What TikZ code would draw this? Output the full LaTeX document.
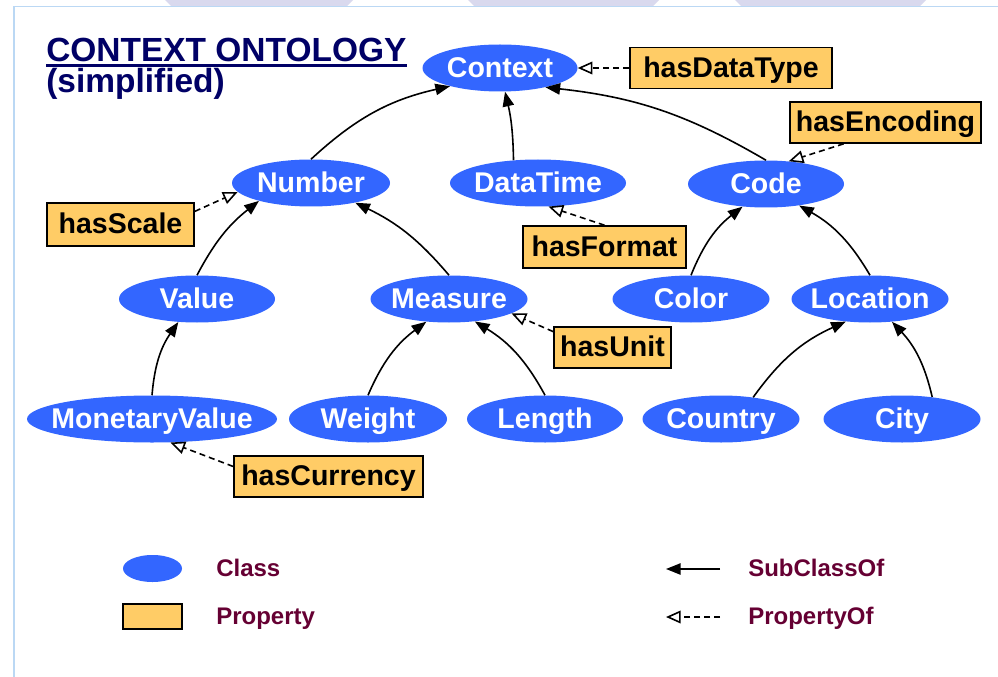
\documentclass[tikz,border=0pt]{standalone}
\usepackage{fontspec}
\setmainfont{Liberation Sans}
\usetikzlibrary{arrows.meta,shapes.geometric,calc}

\definecolor{classblue}{HTML}{3366FF}
\definecolor{propfill}{HTML}{FFCC66}
\definecolor{titlenavy}{HTML}{000066}
\definecolor{legendred}{HTML}{660033}
\definecolor{framecol}{HTML}{BBD8F4}
\definecolor{tabcol}{HTML}{D9D9EE}

\newcommand{\clsname}[1]{\makebox[0pt]{#1}}

\tikzset{
  cls/.style={ellipse, fill=classblue, draw=none, inner sep=0pt,
    minimum width=#1*0.75pt, minimum height=47*0.75pt,
    text=white, font=\fontsize{21.4pt}{24pt}\selectfont\bfseries,
    text height=15.3pt, text depth=1.5pt},
  cls/.default=157,
  prop/.style={rectangle, fill=propfill, draw=black, line width=1.2pt,
    inner sep=0pt, minimum width=#1*0.75pt, minimum height=41*0.75pt,
    font=\fontsize{21.4pt}{24pt}\selectfont\bfseries,
    text height=15.3pt, text depth=1.2pt},
  sub/.style={line width=1.2pt, -{Triangle[length=11pt,width=8.5pt]}},
  propof/.style={line width=1.2pt, dash pattern=on 4.5pt off 3pt,
    -{Triangle[open,length=11pt,width=9.5pt,fill=white]}},
  legendtext/.style={anchor=base west, inner sep=0pt, text=legendred,
    font=\fontsize{18pt}{20pt}\selectfont\bfseries},
}

\begin{document}
\begin{tikzpicture}[x=0.75pt,y=-0.75pt]
  \useasboundingbox (0,0) rectangle (998,677);
  \fill[white] (0,0) rectangle (998,677);

  % tabs along the top edge and the slide frame
  \fill[tabcol] (165,0) -- (353,0) -- (347,6) -- (171,6) -- cycle;
  \fill[tabcol] (468,0) -- (659,0) -- (653,6) -- (474,6) -- cycle;
  \fill[tabcol] (735,0) -- (926,0) -- (920,6) -- (741,6) -- cycle;
  \draw[framecol, line width=1.1pt] (14,677) -- (14,6.5) -- (998,6.5);

  % title
  \node[anchor=base west, inner sep=0pt, text=titlenavy,
        font=\fontsize{25.1pt}{28pt}\selectfont\bfseries] (title) at (46,62) {CONTEXT ONTOLOGY};
  \draw[titlenavy, line width=1.9pt] ($(title.base west)+(0,3.3)$) -- ($(title.base east)+(0,3.3)$);
  \node[anchor=base west, inner sep=0pt, text=titlenavy,
        font=\fontsize{25.1pt}{28pt}\selectfont\bfseries] (subtitle) at (46,93) {(simplified)};

  % classes
  \node[cls=155] (context)  at (500,68)  {\clsname{Context}};
  \node[cls=158] (number)   at (311,183) {\clsname{Number}};
  \node[cls=176] (datatime) at (538,183) {\clsname{DataTime}};
  \node[cls=156] (code)     at (766,184) {\clsname{Code}};
  \node[cls=156] (value)    at (197,299) {\clsname{Value}};
  \node[cls=157] (measure)  at (449,299) {\clsname{Measure}};
  \node[cls=157] (color)    at (691,299) {\clsname{Color}};
  \node[cls=157] (location) at (870,299) {\clsname{Location}};
  \node[cls=250] (monetary) at (152,419) {\clsname{MonetaryValue}};
  \node[cls=158] (weight)   at (368,419) {\clsname{Weight}};
  \node[cls=156] (length)   at (545,419) {\clsname{Length}};
  \node[cls=157] (country)  at (721,419) {\clsname{Country}};
  \node[cls=157] (city)     at (902,419) {\clsname{City}};

  % properties
  \node[prop=202] (hasdatatype) at (731,68)    {hasDataType};
  \node[prop=191] (hasencoding) at (885.5,122.5) {hasEncoding};
  \node[prop=147, minimum height=43*0.75pt] (hasscale) at (120.5,224.5) {hasScale};
  \node[prop=163, minimum height=42*0.75pt] (hasformat) at (604.5,247) {hasFormat};
  \node[prop=117] (hasunit)     at (612.5,347.5) {hasUnit};
  \node[prop=189] (hascurrency) at (328.5,476.5) {hasCurrency};

  % subclass links
  \draw[sub] (number.north)  to[bend left=15]  (context.200);
  \draw[sub] (datatime.137)  to[bend right=6]  (context.282);
  \draw[sub] (code.north)    to[bend right=12] (context.337);
  \draw[sub] (value.north)   to[bend left=12]  (number.199);
  \draw[sub] (measure.north) to[bend right=12] (number.336);
  \draw[sub] (color.north)   to[bend left=15]  (code.224);
  \draw[sub] (location.north) to[bend right=15] (code.327);
  \draw[sub] (monetary.north) to[bend left=15] (value.231);
  \draw[sub] (weight.north)  to[bend left=15]  (measure.225);
  \draw[sub] (length.north)  to[bend right=15] (measure.319);
  \draw[sub] (country.34)    to[bend left=15]  (location.223);
  \draw[sub] (city.36)       to[bend right=15] (location.314);

  % property links
  \draw[propof] (hasdatatype.west) -- (context.east);
  \draw[propof] (hasencoding.207)  -- (code.45);
  \draw[propof] (hasscale.10)      -- (number.187);
  \draw[propof] (hasformat.north)  -- (datatime.294);
  \draw[propof] (hasunit.165)      -- (measure.347);
  \draw[propof] (hascurrency.174)  -- (monetary.308);

  % legend
  \node[ellipse, fill=classblue, inner sep=0pt, minimum width=59*0.75pt,
        minimum height=27*0.75pt] (legclass) at (152.5,568.5) {};
  \node[rectangle, fill=propfill, draw=black, line width=1.1pt, inner sep=0pt,
        minimum width=59*0.75pt, minimum height=25*0.75pt] (legprop) at (152.5,616.5) {};
  \node[legendtext] (legclasstext) at (216,576) {Class};
  \node[legendtext] (legproptext)  at (216,624) {Property};
  \coordinate (subA) at (720,569);
  \coordinate (subB) at (666,569);
  \coordinate (propA) at (720,617);
  \coordinate (propB) at (666,617);
  \draw[sub] (subA) -- (subB);
  \draw[propof] (propA) -- (propB);
  \node[legendtext] (legsubtext)    at (748,576) {SubClassOf};
  \node[legendtext] (legpropoftext) at (748,624) {PropertyOf};
\end{tikzpicture}
\end{document}
